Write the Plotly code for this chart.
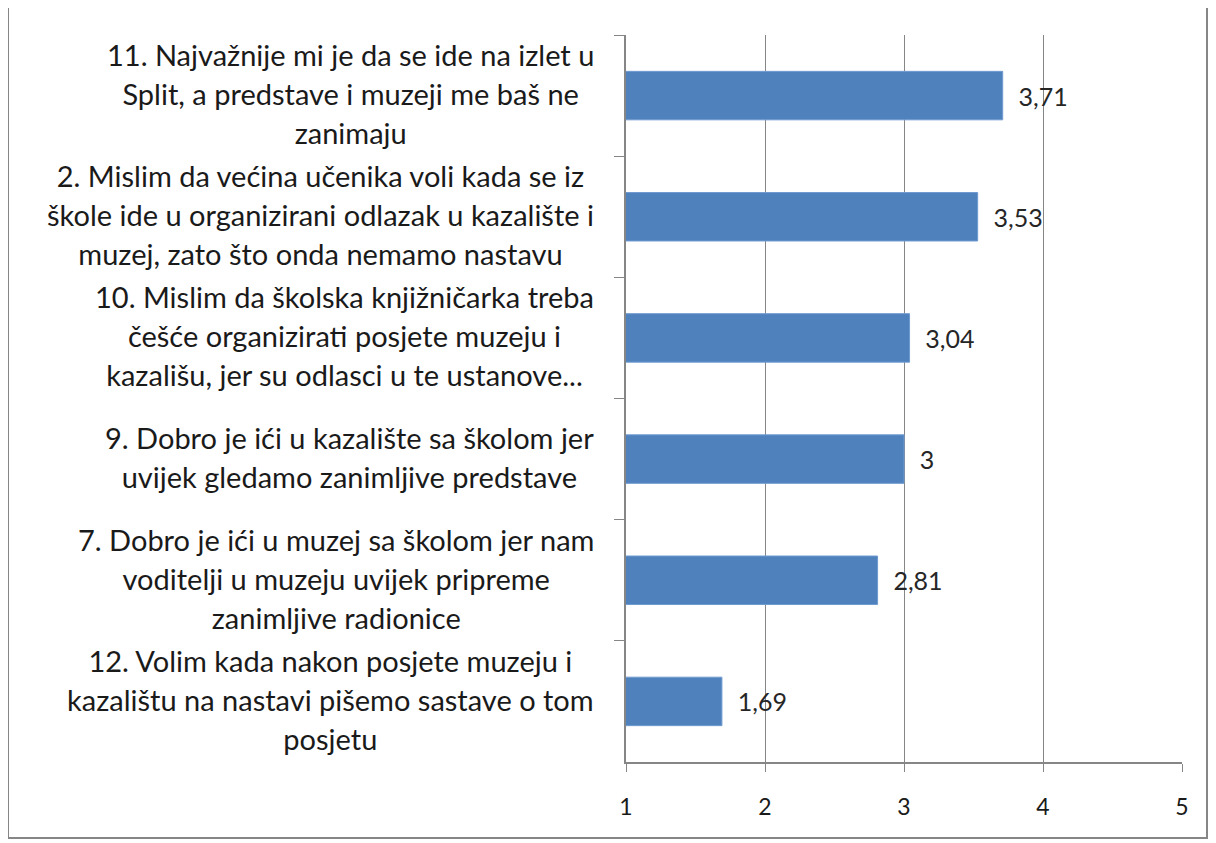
import plotly.graph_objects as go

# ---- data ----
categories = [
    "11. Najvažnije mi je da se ide na izlet u<br>Split, a predstave i muzeji me baš ne<br>zanimaju",
    "2. Mislim da većina učenika voli kada se iz<br>škole ide u organizirani odlazak u kazalište i<br>muzej, zato što onda nemamo nastavu",
    "10. Mislim da školska knjižničarka treba<br>češće organizirati posjete muzeju i<br>kazališu, jer su odlasci u te ustanove...",
    "9. Dobro je ići u kazalište sa školom jer<br>uvijek gledamo zanimljive predstave",
    "7. Dobro je ići u muzej sa školom jer nam<br>voditelji u muzeju uvijek pripreme<br>zanimljive radionice",
    "12. Volim kada nakon posjete muzeju i<br>kazalištu na nastavi pišemo sastave o tom<br>posjetu",
]
values = [3.71, 3.53, 3.04, 3.0, 2.81, 1.69]
x_ticks = [1, 2, 3, 4, 5]

cat_ids = [f"c{i}" for i in range(len(categories))]
value_text = ["\u00a0\u00a0" + f"{v:g}".replace(".", ",") for v in values]

FONT = "Lato, 'Open Sans', sans-serif"
GREY = "#868686"
TXT = "#1a1a1a"

fig = go.Figure()
fig.add_trace(go.Bar(
    x=values, y=cat_ids, orientation="h", width=0.4,
    marker=dict(color="#4F81BD", line=dict(color="#6F9AD0", width=1)),
    text=value_text, textposition="outside", cliponaxis=False,
    textfont=dict(family=FONT, size=25, color="#262626"),
    showlegend=False, hoverinfo="skip",
))

for cid, lab in zip(cat_ids, categories):
    lines = lab.split("<br>")
    txt = "<br>".join(f"<span style='font-size:29px'>{ln}</span>" for ln in lines)
    fig.add_annotation(
        xref="paper", yref="y", x=0, y=cid, xanchor="right", yanchor="middle",
        xshift=-30, yshift=2, text=txt, showarrow=False, align="center",
        font=dict(family=FONT, size=30, color=TXT),
    )

# page has an 8px body margin; lay out in page pixels minus that offset
OFF = 8
W, H = 1202, 833
ml, mr, mt, mb = 626 - OFF, W - (1182 - OFF), 35 - OFF, H - (762 - OFF)
pw, ph = W - ml - mr, H - mt - mb
def px(xp): return (xp - OFF - ml) / pw
def py(yp): return 1 - (yp - OFF - mt) / ph
fig.add_shape(type="rect", xref="paper", yref="paper",
              x0=px(8), x1=px(1207), y0=py(838), y1=py(7),
              line=dict(color=GREY, width=2), fillcolor="rgba(0,0,0,0)", layer="below")

fig.update_layout(
    width=W, height=H,
    margin=dict(l=ml, r=mr, t=mt, b=mb),
    paper_bgcolor="white", plot_bgcolor="white",
    font=dict(family=FONT, color=TXT),
    showlegend=False,
)
fig.update_xaxes(
    range=[1, 5], tickvals=x_ticks, ticktext=[str(t) for t in x_ticks],
    showgrid=True, gridcolor=GREY, gridwidth=1,
    showline=True, linecolor=GREY, linewidth=1.5,
    ticks="outside", ticklen=8, tickcolor=GREY,
    tickfont=dict(family=FONT, size=23, color=TXT),
    ticklabelstandoff=16, zeroline=False,
)
fig.update_yaxes(
    type="category", categoryorder="array", categoryarray=cat_ids,
    autorange="reversed", tickson="boundaries",
    showticklabels=False, showgrid=False,
    showline=True, linecolor=GREY, linewidth=1.5,
    ticks="outside", ticklen=10, tickcolor=GREY,
)

fig.write_html("out.html")
